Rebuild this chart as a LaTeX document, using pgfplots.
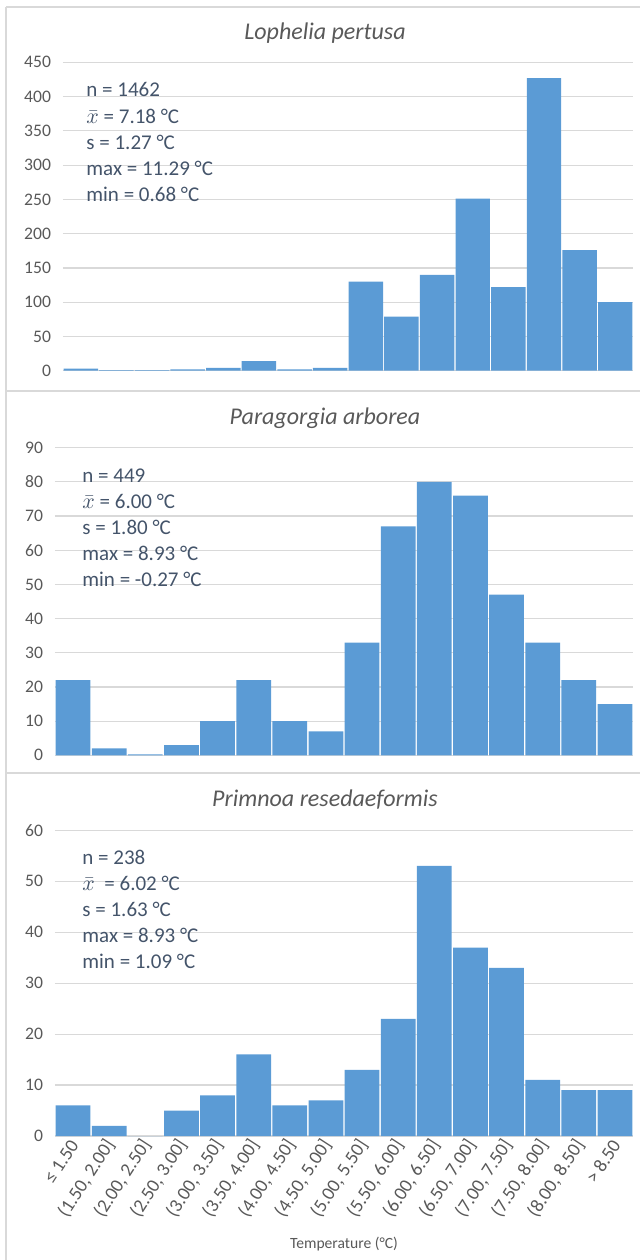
\documentclass[border=0pt]{standalone}
\usepackage{pgfplots}
\pgfplotsset{compat=1.18}
\usepackage{fontspec}
\setmainfont{Carlito}
\definecolor{barblue}{HTML}{5B9BD5}
\definecolor{ticktxt}{HTML}{595959}
\definecolor{gridc}{HTML}{D9D9D9}
\definecolor{stat}{HTML}{44546A}
\definecolor{bordc}{HTML}{D9D9D9}
\pgfplotsset{hist/.style={
  scale only axis, anchor=south west,
  xmin=-0.5, xmax=15.5, ymin=0,
  axis line style={draw=none}, tick style={draw=none},
  ymajorgrids, grid style={gridc, line width=0.6pt},
  xtick=\empty,
  yticklabel style={font=\fontsize{8.8}{10}\selectfont, text=ticktxt, xshift=-2.5pt},
  /pgf/number format/assume math mode=true,
}}
\tikzset{statline/.style={anchor=base west, inner sep=0pt, text=stat, font=\fontsize{10.5}{13}\selectfont}}
\begin{document}
\begin{tikzpicture}
\path[use as bounding box] (0,0) rectangle (319.5pt,-630pt);
% panel borders
\draw[bordc, line width=0.6pt] (3pt,-3.5pt) -- (330pt,-3.5pt);
\draw[bordc, line width=0.6pt] (3pt,-195.5pt) -- (330pt,-195.5pt);
\draw[bordc, line width=0.6pt] (3pt,-386.5pt) -- (330pt,-386.5pt);
\draw[bordc, line width=0.6pt] (3pt,-3.5pt) -- (3pt,-640pt);

% Panel 1
\begin{axis}[hist, at={(31.5pt,-185.35pt)}, width=285pt, height=154.2pt,
  ymax=450, ytick distance=50]
\addplot[ybar, bar width=0.965, bar shift=0pt, fill=barblue, draw=none]
 coordinates {(0,3) (1,1) (2,1) (3,2) (4,4) (5,14) (6,2) (7,4) (8,130) (9,79) (10,140) (11,251) (12,122) (13,427) (14,176) (15,100)};
\end{axis}
\node[anchor=base, text=ticktxt, font=\fontsize{12}{14}\selectfont\itshape] at (162.5pt,-19.65pt) {Lophelia pertusa};
\node[statline] at (43pt,-48.35pt) {n = 1462};
\node[statline] at (43pt,-61.5pt) {$\bar{x}$ = 7.18 °C};
\node[statline] at (43pt,-74.6pt) {s = 1.27 °C};
\node[statline] at (43pt,-87.75pt) {max = 11.29 °C};
\node[statline] at (43pt,-100.85pt) {min = 0.68 °C};

% Panel 2
\begin{axis}[hist, at={(27.5pt,-377.65pt)}, width=289pt, height=153.8pt,
  ymax=90, ytick distance=10]
\addplot[ybar, bar width=0.965, bar shift=0pt, fill=barblue, draw=none]
 coordinates {(0,22) (1,2) (2,0.3) (3,3) (4,10) (5,22) (6,10) (7,7) (8,33) (9,67) (10,80) (11,76) (12,47) (13,33) (14,22) (15,15)};
\end{axis}
\node[anchor=base, text=ticktxt, font=\fontsize{12}{14}\selectfont\itshape] at (162.5pt,-212pt) {Paragorgia arborea};
\node[statline] at (41pt,-241.35pt) {n = 449};
\node[statline] at (41pt,-254.35pt) {$\bar{x}$ = 6.00 °C};
\node[statline] at (41pt,-267.35pt) {s = 1.80 °C};
\node[statline] at (41pt,-280.35pt) {max = 8.93 °C};
\node[statline] at (41pt,-293.35pt) {min = -0.27 °C};

% Panel 3
\begin{axis}[hist, at={(27.5pt,-568pt)}, width=289pt, height=152.85pt,
  ymax=60, ytick distance=10,
  xtick={0,...,15},
  xticklabels={{≤ 1.50},{(1.50, 2.00]},{(2.00, 2.50]},{(2.50, 3.00]},{(3.00, 3.50]},{(3.50, 4.00]},{(4.00, 4.50]},{(4.50, 5.00]},{(5.00, 5.50]},{(5.50, 6.00]},{(6.00, 6.50]},{(6.50, 7.00]},{(7.00, 7.50]},{(7.50, 8.00]},{(8.00, 8.50]},{> 8.50}},
  xticklabel style={rotate=57, anchor=east, xshift=1.5pt, yshift=-2pt, font=\fontsize{9.5}{11}\selectfont, text=ticktxt}]
\addplot[ybar, bar width=0.965, bar shift=0pt, fill=barblue, draw=none]
 coordinates {(0,6) (1,2) (2,0) (3,5) (4,8) (5,16) (6,6) (7,7) (8,13) (9,23) (10,53) (11,37) (12,33) (13,11) (14,9) (15,9)};
\end{axis}
\node[anchor=base, text=ticktxt, font=\fontsize{12}{14}\selectfont\itshape] at (162.5pt,-403pt) {Primnoa resedaeformis};
\node[statline] at (41pt,-432pt) {n = 238};
\node[statline] at (41pt,-445.05pt) {$\bar{x}$\ \ = 6.02 °C};
\node[statline] at (41pt,-458.1pt) {s = 1.63 °C};
\node[statline] at (41pt,-471.1pt) {max = 8.93 °C};
\node[statline] at (41pt,-484.15pt) {min = 1.09 °C};
\node[text=ticktxt, font=\fontsize{7.8}{9}\selectfont] at (172pt,-622pt) {Temperature (°C)};
\end{tikzpicture}
\end{document}
